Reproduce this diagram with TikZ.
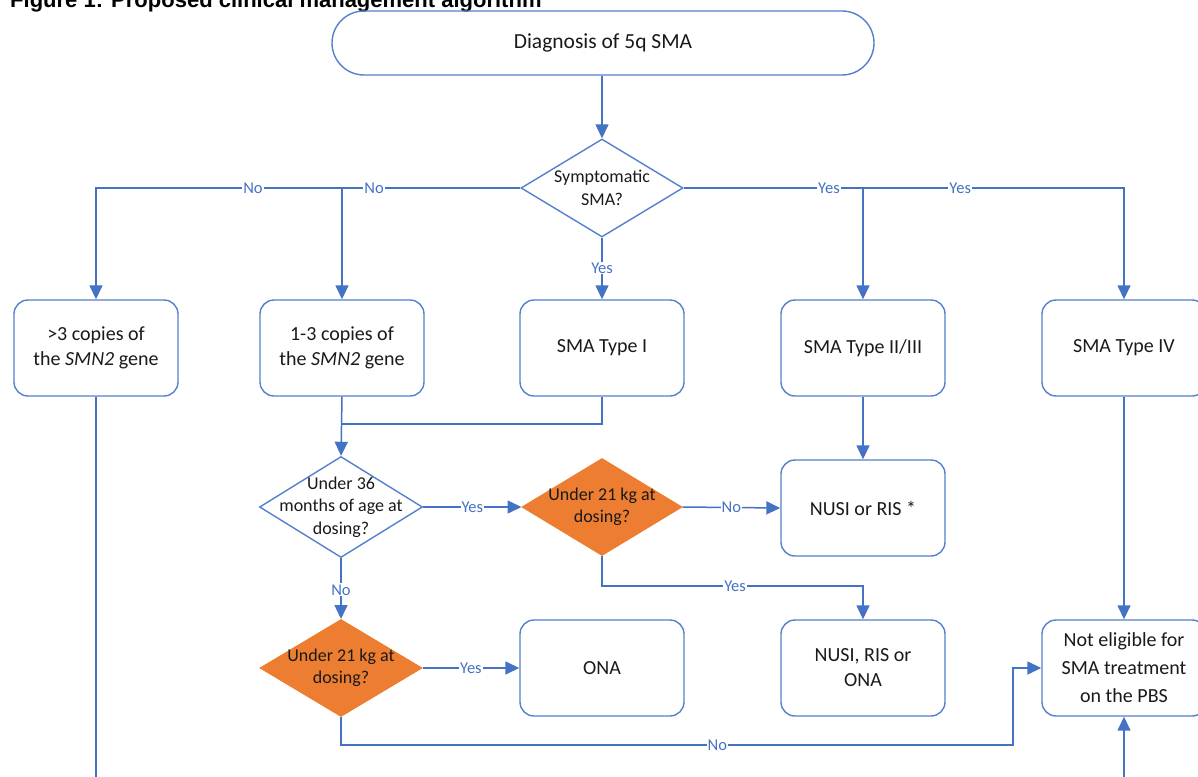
\documentclass[tikz,border=0pt]{standalone}
\usepackage{fontspec}
\setmainfont{Carlito}
\newfontfamily\titlef{Liberation Sans}
\usetikzlibrary{arrows.meta,shapes.geometric,calc}
\definecolor{lblue}{HTML}{4472C4}
\definecolor{bblue}{HTML}{5580CC}
\definecolor{orng}{HTML}{ED7D31}
\definecolor{txt}{HTML}{1A1A1A}
\tikzset{
  ln/.style={draw=lblue, line width=1.5pt},
  arr/.style={ln, -{Triangle[length=14pt,width=13pt]}},
  box/.style={draw=bblue, line width=1.4pt, rounded corners=14pt, minimum width=164pt, minimum height=96pt, inner sep=0pt, align=center, text=txt, font=\fontsize{20}{25}\selectfont},
  dia/.style={diamond, draw=bblue, line width=1.4pt, inner sep=0pt, fill=white},
  odia/.style={diamond, draw=orng, fill=orng, line width=1pt, inner sep=0pt},
  dtext/.style={align=center, text=txt, font=\fontsize{18}{22.5}\selectfont, inner sep=0pt},
  lab/.style={fill=white, text=lblue, inner sep=1pt, font=\fontsize{16.5}{17}\selectfont},
}
\begin{document}
\begin{tikzpicture}[x=1pt,y=-1pt]
\useasboundingbox (0,0) rectangle (1198,776);
\clip (0,0) rectangle (1198,776);
\fill[white] (0,0) rectangle (1198,776);
% title (cut off at the top, as in the reference)
\node[anchor=base west, inner sep=0pt, font=\titlef\bfseries\fontsize{22}{26}\selectfont] (title) at (10,8) {Figure 1: Proposed clinical management algorithm};
% nodes
\node[box, minimum width=542pt, minimum height=64pt, rounded corners=32pt, font=\fontsize{21.5}{26}\selectfont] (diag) at (603,43) {Diagnosis of 5q SMA};
\node[dia, minimum width=162pt, minimum height=98pt] (sym) at (602,188) {};
\node[dtext] (symt) at (sym) {Symptomatic\\SMA?};
\node[box] (b1) at (96,348) {\textgreater3 copies of\\the \textit{SMN2} gene};
\node[box] (b2) at (342,348) {1-3 copies of\\the \textit{SMN2} gene};
\node[box] (b3) at (602,348) {SMA Type I};
\node[box] (b4) at (863,348) {SMA Type II/III};
\node[box] (b5) at (1124,348) {SMA Type IV};
\node[dia, minimum width=163pt, minimum height=101pt] (u36) at (341,507) {};
\node[dtext] (u36t) at (u36) {Under 36\\months of age at\\dosing?};
\node[odia, minimum width=160pt, minimum height=97pt] (w1) at (602,507) {};
\node[dtext] (w1t) at (w1) {Under 21 kg at\\dosing?};
\node[box] (nusi) at (863,508) {NUSI or RIS *};
\node[odia, minimum width=162pt, minimum height=97pt] (w2) at (341,668) {};
\node[dtext] (w2t) at (w2) {Under 21 kg at\\dosing?};
\node[box] (ona) at (602,668) {ONA};
\node[box] (nro) at (863,668) {NUSI, RIS or\\ONA};
\node[box, font=\fontsize{20}{28}\selectfont] (ne) at (1124,668) {Not eligible for\\SMA treatment\\on the PBS};
% coordinates
\coordinate (j1) at (342,424);
\coordinate (j2) at (602,586);
\coordinate (j3) at (1013,745);
\coordinate (bot1) at (96,820);
\coordinate (bot2) at (1124,820);
% connectors
\draw[arr] (diag.south -| sym.north) -- (sym.north);
\draw[arr] (sym.west) -| node[lab, pos=0.315] {No} (b1.north);
\draw[arr] (sym.west) -| node[lab, pos=0.41] {No} (b2.north);
\draw[arr] (sym.east) -| node[lab, pos=0.314] {Yes} (b5.north);
\draw[arr] (sym.east) -| node[lab, pos=0.405] {Yes} (b4.north);
\draw[arr] (sym.south) -- node[lab, pos=0.49] {Yes} (b3.north);
\draw[ln] (b3.south) |- (j1);
\draw[arr] (b2.south) -- (u36.north);
\draw[arr] (u36.east) -- node[lab] {Yes} (w1.west);
\draw[arr] (w1.east) -- node[lab] {No} (nusi.west);
\draw[arr] (b4.south) -- (nusi.north);
\draw[arr] (w1.south) -- (j2) -| node[lab, pos=0.255] {Yes} (nro.north);
\draw[arr] (u36.south) -- node[lab, pos=0.52] {No} (w2.north);
\draw[arr] (w2.east) -- node[lab] {Yes} (ona.west);
\draw[arr] (w2.south) |- node[lab, pos=0.78] {No} (j3) |- (ne.west);
\draw[arr] (b5.south) -- (ne.north);
\draw[arr] (b1.south) -- (bot1) -- (bot2) -- (ne.south);
\end{tikzpicture}
\end{document}
